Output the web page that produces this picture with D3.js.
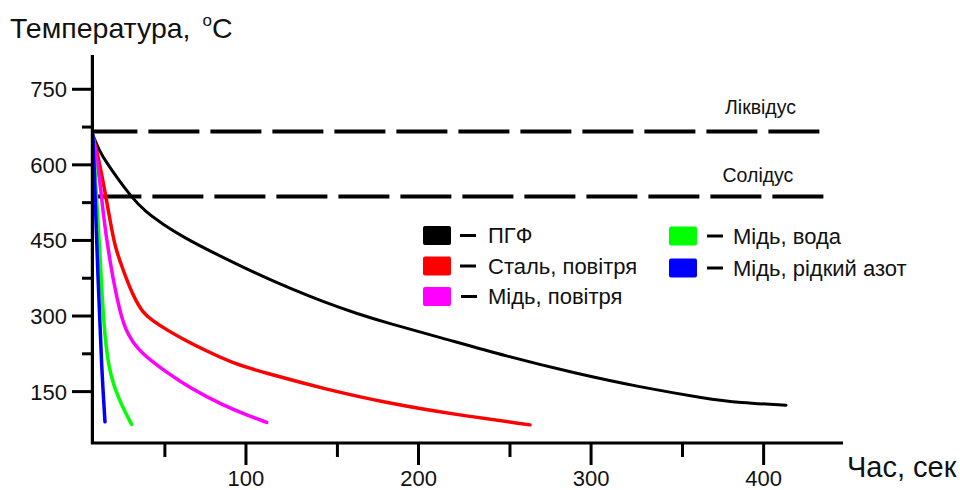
<!DOCTYPE html>
<html>
<head>
<meta charset="utf-8">
<script src="https://cdn.jsdelivr.net/npm/d3@7/dist/d3.min.js"></script>
<style>
  html, body { margin: 0; padding: 0; background: #fff; }
  svg { display: block; font-family: "Liberation Sans", Arial, sans-serif; }
</style>
</head>
<body>
<svg id="chart" width="960" height="490"></svg>
<script>
// ---- data ----
const yTicksMajor = [150, 300, 450, 600, 750];
const yTicksMinor = [225, 375, 525, 675];
const xTicksMajor = [100, 200, 300, 400];
const xTicksMinor = [53, 153, 253, 353];

const liquidus = 666;
const solidus = 537;

const pgfT = [11.35, 15, 19.1, 25.8, 33.5, 41.3, 51.9, 64.5, 80.9, 106, 126, 145, 164, 183, 212, 251, 290, 328, 367, 386, 413];
const pgfV = [658, 628, 605, 572, 537, 508, 482, 455, 426, 384, 354, 328, 305, 285, 258, 220, 187, 159, 136, 128, 123];

const steelAirT = [11.35, 15.4, 18.8, 21.5, 24.1, 28.7, 34.5, 40.3, 45.5, 54.2, 64.7, 76.3, 92.5, 112.2, 144.7, 183.5, 222.3, 264.6];
const steelAirV = [658, 600, 537, 485, 437, 392, 340, 306, 292, 272, 252, 232, 206, 186, 156, 126, 104, 84];

const copperAirT = [11.35, 15.4, 17.1, 21.2, 27, 31.6, 37.4, 44.4, 53.7, 67.6, 86.7, 99.4, 112];
const copperAirV = [658, 570, 505, 405, 304, 262, 234, 213, 189, 157, 123, 105, 89];

const copperWaterT = [11.35, 13.1, 15.4, 17.3, 20.2, 26.4, 33.7];
const copperWaterV = [658, 550, 425, 292, 193, 133, 85];

const copperN2T = [11.35, 14.4, 16.4, 18.3];
const copperN2V = [658, 358, 193, 90];

const seriesNames = ["ПГФ", "Сталь, повітря", "Мідь, повітря", "Мідь, вода", "Мідь, рідкий азот"];
const seriesColors = ["#000000", "#ff0000", "#ff00ff", "#00ff00", "#0000ff"];

const series = [
  {name: seriesNames[0], color: seriesColors[0], t: pgfT, v: pgfV, w: 3},
  {name: seriesNames[1], color: seriesColors[1], t: steelAirT, v: steelAirV, w: 3.5},
  {name: seriesNames[2], color: seriesColors[2], t: copperAirT, v: copperAirV, w: 3.5},
  {name: seriesNames[3], color: seriesColors[3], t: copperWaterT, v: copperWaterV, w: 3.5},
  {name: seriesNames[4], color: seriesColors[4], t: copperN2T, v: copperN2V, w: 3.5}
];

// ---- scales ----
const x = d3.scaleLinear().domain([11, 446]).range([92.4, 843]);
const y = d3.scaleLinear().domain([48, 818]).range([443, 55]);

const svg = d3.select("#chart");

// dashed reference lines
svg.append("line")
  .attr("x1", x(11)).attr("x2", 821)
  .attr("y1", y(liquidus)).attr("y2", y(liquidus))
  .attr("stroke", "#000").attr("stroke-width", 4)
  .attr("stroke-dasharray", "51 11").attr("stroke-dashoffset", 6);
svg.append("line")
  .attr("x1", x(11)).attr("x2", 828)
  .attr("y1", y(solidus)).attr("y2", y(solidus))
  .attr("stroke", "#000").attr("stroke-width", 4)
  .attr("stroke-dasharray", "51 11").attr("stroke-dashoffset", 2);

svg.append("text").attr("x", 725).attr("y", y(liquidus) - 17.5)
  .attr("font-size", 19.5).attr("fill", "#111").text("Ліквідус");
svg.append("text").attr("x", 722.5).attr("y", y(solidus) - 15)
  .attr("font-size", 19.5).attr("fill", "#111").text("Солідус");

// curves
const line = d3.line().x(d => x(d[0])).y(d => y(d[1])).curve(d3.curveBasis);
series.forEach(s => {
  const pts = s.t.map((t, i) => [t, s.v[i]]);
  svg.append("path").attr("d", line(pts))
    .attr("fill", "none").attr("stroke", s.color)
    .attr("stroke-width", s.w).attr("stroke-linecap", "round").attr("stroke-linejoin", "round");
});

// axes
svg.append("path")
  .attr("d", `M${x(11)},${y(818)} L${x(11)},${y(48)} L${x(446)},${y(48)}`)
  .attr("fill", "none").attr("stroke", "#000").attr("stroke-width", 3.2)
  .attr("stroke-linejoin", "miter").attr("stroke-linecap", "butt");

// y ticks
const yAx = svg.append("g");
yTicksMajor.forEach(v => {
  yAx.append("line").attr("x1", 72).attr("x2", x(11)).attr("y1", y(v)).attr("y2", y(v))
    .attr("stroke", "#000").attr("stroke-width", 3);
  yAx.append("text").attr("x", 67).attr("y", y(v)).attr("dy", "0.36em")
    .attr("text-anchor", "end").attr("font-size", 22).attr("fill", "#111").text(v);
});
yTicksMinor.forEach(v => {
  yAx.append("line").attr("x1", 82).attr("x2", x(11)).attr("y1", y(v)).attr("y2", y(v))
    .attr("stroke", "#000").attr("stroke-width", 3);
});

// x ticks
const xAx = svg.append("g");
xTicksMajor.forEach(t => {
  xAx.append("line").attr("x1", x(t)).attr("x2", x(t)).attr("y1", y(48)).attr("y2", 465)
    .attr("stroke", "#000").attr("stroke-width", 3);
  xAx.append("text").attr("x", x(t)).attr("y", 486)
    .attr("text-anchor", "middle").attr("font-size", 22).attr("fill", "#111").text(t);
});
xTicksMinor.forEach(t => {
  xAx.append("line").attr("x1", x(t)).attr("x2", x(t)).attr("y1", y(48)).attr("y2", 457)
    .attr("stroke", "#000").attr("stroke-width", 3);
});

// axis titles
const yt = svg.append("text").attr("x", 10).attr("y", 38).attr("font-size", 28.5).attr("fill", "#111");
yt.append("tspan").text("Температура, ");
yt.append("tspan").attr("font-size", 17).attr("dx", 4).attr("dy", -12).text("o");
yt.append("tspan").attr("font-size", 28.5).attr("dy", 12).text("C");

svg.append("text").attr("x", 847).attr("y", 477).attr("font-size", 29).attr("fill", "#111").text("Час, сек");

// legend
const legendPos = [
  {sx: 423, cy: 235.5, dx: 460, tx: 488},
  {sx: 423, cy: 266, dx: 460, tx: 488},
  {sx: 423, cy: 296.5, dx: 461, tx: 488},
  {sx: 669, cy: 236, dx: 707, tx: 733},
  {sx: 669, cy: 268, dx: 707, tx: 733}
];
const lg = svg.append("g");
series.forEach((s, i) => {
  const p = legendPos[i];
  lg.append("rect").attr("x", p.sx).attr("y", p.cy - 9.5).attr("width", 28).attr("height", 19)
    .attr("rx", 2).attr("fill", s.color);
  lg.append("line").attr("x1", p.dx).attr("x2", p.dx + 16).attr("y1", p.cy).attr("y2", p.cy)
    .attr("stroke", "#000").attr("stroke-width", 3);
  lg.append("text").attr("x", p.tx).attr("y", p.cy + 7.8).attr("font-size", 22)
    .attr("fill", "#111").text(s.name);
});
</script>
</body>
</html>
